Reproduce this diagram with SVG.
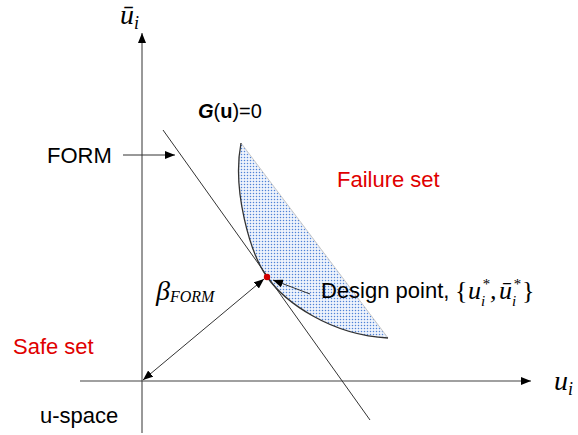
<svg xmlns="http://www.w3.org/2000/svg" width="578" height="435" viewBox="0 0 578 435">
<style>
.t{font-family:"Liberation Sans",Arial,sans-serif;font-size:22px;fill:#000}
.red{fill:#e00000}
.m{font-family:"Liberation Serif","Times New Roman",serif;font-style:italic;fill:#000}
.mn{font-family:"Liberation Serif","Times New Roman",serif;fill:#000}
.ln{stroke:#333;stroke-width:1;fill:none}
</style>
<defs>
<marker id="ah" viewBox="0 0 10 8" refX="10" refY="4" markerWidth="10" markerHeight="8" markerUnits="userSpaceOnUse" orient="auto-start-reverse">
<path d="M0,0L10,4L0,8Z" fill="#000"/>
</marker>
<pattern id="dots" width="3" height="3" patternUnits="userSpaceOnUse">
<rect width="3" height="3" fill="#eef3fc"/>
<circle cx="1.5" cy="1.5" r="0.75" fill="#4f82d6"/>
</pattern>
</defs>
<g id="axes">
<line x1="80" y1="381" x2="531" y2="381" stroke="#808080" stroke-width="1.5" marker-end="url(#ah)"/>
<line x1="142" y1="433" x2="142" y2="33" stroke="#333" stroke-width="1" marker-end="url(#ah)"/>
</g>
<g id="failure-region">
<path d="M241,143 L388,338 C330,335 290,305 267,277 C250,253 232,190 241,143 Z" fill="url(#dots)" stroke="none"/>
<line x1="241" y1="143" x2="388" y2="338" stroke="#c8c8c8" stroke-width="1"/>
<path d="M241,143 C232,190 250,253 267,277 C285,302 330,335 388,338" stroke="#333" stroke-width="1.3" fill="none"/>
</g>
<g id="form-line">
<line x1="163" y1="130" x2="370" y2="420" class="ln"/>
</g>
<g id="connectors">
<line x1="123" y1="155" x2="175" y2="155" class="ln" marker-end="url(#ah)"/>
<line x1="143" y1="380" x2="264" y2="279" class="ln" marker-start="url(#ah)" marker-end="url(#ah)"/>
<line x1="310" y1="294" x2="273" y2="280" class="ln" marker-end="url(#ah)"/>
</g>
<g id="design-point">
<circle cx="267" cy="277" r="3.2" fill="#d00000"/>
</g>
<g id="labels">
<text x="198" y="118" class="t" style="font-size:20px"><tspan font-weight="bold" font-style="italic">G</tspan>(<tspan font-weight="bold">u</tspan>)=0</text>
<text x="47" y="163" class="t">FORM</text>
<text x="337" y="187" class="t red">Failure set</text>
<text x="13" y="354" class="t red">Safe set</text>
<text x="40" y="423" class="t">u-space</text>
<text x="321" y="298" class="t">Design point,</text>
<text x="455" y="299" class="mn" font-size="26">{</text>
<text x="468" y="299" class="m" font-size="26">u</text>
<text x="481" y="306" class="m" font-size="15">i</text>
<text x="482" y="289" class="m" font-size="15">*</text>
<text x="490" y="299" class="m" font-size="26">,</text>
<text x="499" y="299" class="m" font-size="26">ū</text>
<text x="512" y="306" class="m" font-size="15">i</text>
<text x="513" y="289" class="m" font-size="15">*</text>
<text x="522" y="299" class="mn" font-size="26">}</text>
<text x="156" y="300" class="m" font-size="28">β<tspan font-size="16" dy="2">FORM</tspan></text>
<text x="120" y="24" class="m" font-size="28">ū<tspan font-size="18" dy="5">i</tspan></text>
<text x="554" y="390" class="m" font-size="28">u<tspan font-size="18" dy="5">i</tspan></text>
</g>
</svg>
